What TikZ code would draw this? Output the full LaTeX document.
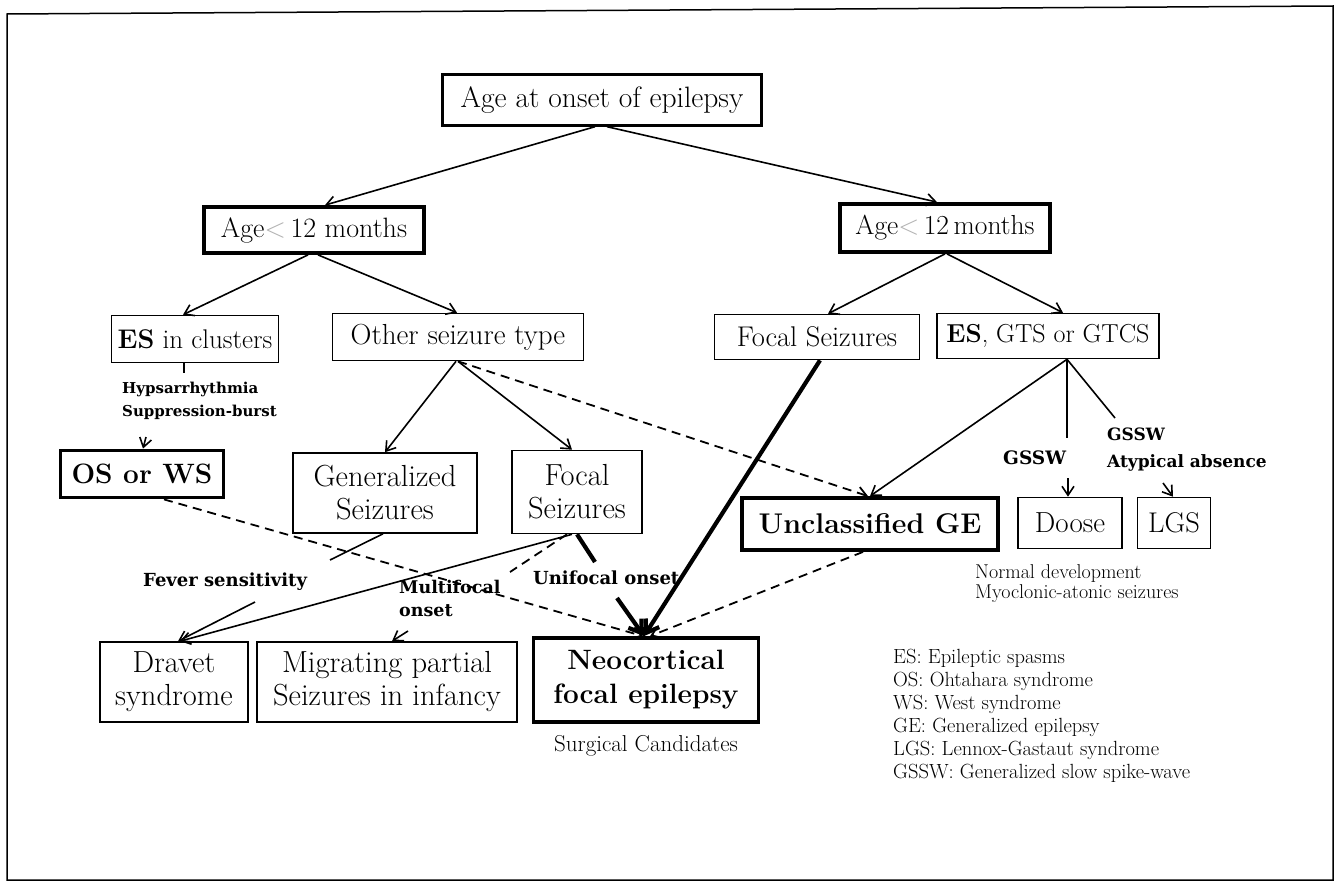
\documentclass[tikz,border=0pt]{standalone}
\usepackage{fontspec}
\newfontfamily\lblfont{DejaVu Serif}
\usetikzlibrary{arrows.meta}
\begin{document}
\begin{tikzpicture}[x=1pt,y=-1pt,
  box/.style={draw, line width=1.6pt, inner sep=0pt, align=center, font=\fontsize{25}{31}\selectfont},
  twobox/.style={box, font=\fontsize{30.5}{33}\selectfont},
  thickbox/.style={box, line width=3.8pt},
  arr/.style={line width=1.6pt, -{Straight Barb[length=9pt,width=12pt]}},
  thk/.style={line width=4.2pt},
  dsh/.style={line width=1.8pt, dash pattern=on 9pt off 6pt},
  lbl/.style={font=\lblfont\bfseries\fontsize{18}{26}\selectfont, inner sep=0pt, align=left},
  note/.style={font=\fontsize{20}{20}\selectfont, inner sep=0pt, align=left}
]
\useasboundingbox (0,0) rectangle (1338,883);
\fill[white] (0,0) rectangle (1338,883);
\draw[line width=1.5pt] (7,14) -- (1333,6) -- (1333,880) -- (7,880) -- cycle;

% nodes
\node[box, line width=2.4pt, minimum width=319, minimum height=51, font=\fontsize{29.5}{32}\selectfont] (top) at (602,100) {Age at onset of epilepsy};
\node[thickbox, minimum width=220, minimum height=46, font=\fontsize{28}{31}\selectfont] (ageL) at (314,230) {Age\textcolor{gray!60}{<}\,12 months};
\node[thickbox, minimum width=210, minimum height=48, font=\fontsize{27.5}{31}\selectfont] (ageR) at (945,228) {Age\textcolor{gray!60}{<}\,12\,months};
\node[box, minimum width=167, minimum height=47, font=\fontsize{27}{31}\selectfont] (esc) at (195,339) {\textbf{ES} in clusters};
\node[box, minimum width=251, minimum height=47, font=\fontsize{29}{31}\selectfont] (other) at (458,337) {Other seizure type};
\node[box, minimum width=205, minimum height=45, font=\fontsize{28.5}{31}\selectfont] (focR) at (817,337) {Focal Seizures};
\node[box, minimum width=222, minimum height=45, font=\fontsize{26}{31}\selectfont] (esg) at (1048,336) {\textbf{ES}, GTS or GTCS};
\node[thickbox, minimum width=163, minimum height=47, font=\bfseries\fontsize{28}{31}\selectfont] (osws) at (142,474) {OS or WS};
\node[twobox, minimum width=184, minimum height=80] (gen) at (385,493) {Generalized\\Seizures};
\node[twobox, minimum width=130, minimum height=83] (focL) at (577,492) {Focal\\Seizures};
\node[thickbox, minimum width=256, minimum height=52, font=\bfseries\fontsize{28.5}{31}\selectfont] (uncl) at (870,524) {Unclassified GE};
\node[box, minimum width=104, minimum height=51, font=\fontsize{29}{31}\selectfont] (doose) at (1070,523) {Doose};
\node[box, minimum width=73, minimum height=51, font=\fontsize{28.5}{31}\selectfont] (lgs) at (1174,523) {LGS};
\node[twobox, minimum width=148, minimum height=80] (dravet) at (174,682) {Dravet\\syndrome};
\node[twobox, minimum width=260, minimum height=80] (migr) at (387,682) {Migrating partial\\Seizures in infancy};
\node[thickbox, minimum width=225, minimum height=84, font=\bfseries\fontsize{28}{34}\selectfont] (neo) at (646,680) {Neocortical\\focal epilepsy};
\node[inner sep=0pt, font=\fontsize{23}{26}\selectfont] (surg) at (646,746) {Surgical Candidates};

% labels
\node[lbl, anchor=north west, font=\lblfont\bfseries\fontsize{15}{23}\selectfont] (hyps) at (122,382) {Hypsarrhythmia\\Suppression-burst};
\node[lbl, anchor=west] (fever) at (143,582) {Fever sensitivity};
\node[lbl, anchor=north west, font=\lblfont\bfseries\fontsize{17.5}{23}\selectfont] (multi) at (399,580) {Multifocal\\onset};
\node[lbl, anchor=west] (uni) at (533,578) {Unifocal onset};
\node[lbl, anchor=west, font=\lblfont\bfseries\fontsize{18.5}{26}\selectfont] (gssw1) at (1003,458) {GSSW};
\node[lbl, anchor=north west, font=\lblfont\bfseries\fontsize{17}{27}\selectfont] (gssw2) at (1107,428) {GSSW\\Atypical absence};
\node[note, anchor=north west] (normal) at (975,564) {Normal development\\Myoclonic-atonic seizures};
\node[inner sep=0pt, anchor=north west, align=left, font=\fontsize{20.5}{23}\selectfont] (legend) at (893,649)
  {ES: Epileptic spasms\\OS: Ohtahara syndrome\\WS: West syndrome\\GE: Generalized epilepsy\\LGS: Lennox-Gastaut syndrome\\GSSW: Generalized slow spike-wave};

% coordinates for free ends
\coordinate (escT) at (184,373);
\coordinate (oswsA) at (146,437);
\coordinate (genT) at (330,560);
\coordinate (feverA) at (255,602);
\coordinate (multT) at (510,572);
\coordinate (multA) at (408,631);
\coordinate (uniT) at (595,562);
\coordinate (uniA) at (617,598);
\coordinate (gsswT) at (1067,438);
\coordinate (gsswA) at (1068,478);
\coordinate (lgsT) at (1115,418);
\coordinate (lgsA) at (1163,483);

% connectors
\draw[arr] ([xshift=-7pt]top.south) -- ([xshift=11pt]ageL.north);
\draw[arr] ([xshift=5pt]top.south) -- ([xshift=-8pt]ageR.north);
\draw[arr] ([xshift=-6pt]ageL.south) -- ([xshift=-12pt]esc.north);
\draw[arr] ([xshift=4pt]ageL.south) -- ([xshift=-1pt]other.north);
\draw[arr] (ageR.south) -- ([xshift=11pt]focR.north);
\draw[arr] ([xshift=2pt]ageR.south) -- ([xshift=15pt]esg.north);
\draw[arr] ([xshift=-2pt]other.south) -- (gen.north);
\draw[arr] (other.south) -- ([xshift=-5pt]focL.north);
\draw[dsh, -{Straight Barb[length=9pt,width=12pt]}] (other.south) -- ([xshift=-2pt]uncl.north);
\draw[thk, -{Straight Barb[length=12pt,width=16pt]}] ([xshift=3pt]focR.south) -- ([xshift=-2pt]neo.north);
\draw[arr] ([xshift=19pt]esg.south) -- (uncl.north);
\draw[line width=1.6pt] ([xshift=19pt]esg.south) -- (gsswT);
\draw[arr] (gsswA) -- ([xshift=-2pt]doose.north);
\draw[line width=1.6pt] ([xshift=19pt]esg.south) -- (lgsT);
\draw[arr] (lgsA) -- ([xshift=-1pt]lgs.north);
\draw[line width=1.6pt] ([xshift=-11pt]esc.south) -- (escT);
\draw[arr] (oswsA) -- ([xshift=1pt]osws.north);
\draw[dsh, -{Straight Barb[length=9pt,width=12pt]}] ([xshift=22pt]osws.south) -- ([xshift=-3pt]neo.north);
\draw[dsh, -{Straight Barb[length=9pt,width=12pt]}] ([xshift=-7pt]uncl.south) -- ([xshift=4pt]neo.north);
\draw[line width=1.6pt] ([xshift=-2pt]gen.south) -- (genT);
\draw[arr] (feverA) -- ([xshift=4pt]dravet.north);
\draw[arr] ([xshift=-5pt]focL.south) -- ([xshift=6pt]dravet.north);
\draw[dsh] ([xshift=-10pt]focL.south) -- (multT);
\draw[arr] (multA) -- ([xshift=5pt]migr.north);
\draw[thk] (focL.south) -- (uniT);
\draw[thk, -{Straight Barb[length=12pt,width=16pt]}] (uniA) -- ([xshift=-2pt]neo.north);
\end{tikzpicture}
\end{document}
